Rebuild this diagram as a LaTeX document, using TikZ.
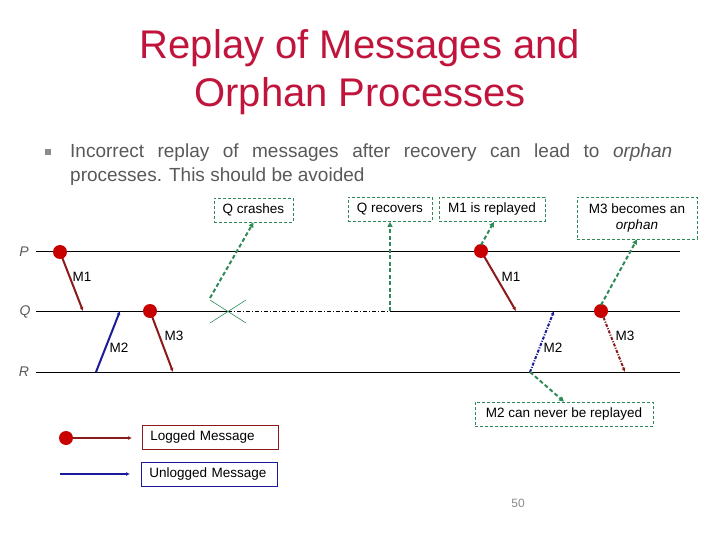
\documentclass[tikz,border=0pt]{standalone}
\usepackage{fontspec}
\setmainfont{Liberation Sans}
\usetikzlibrary{arrows.meta}
\definecolor{titlered}{HTML}{C0143C}
\definecolor{msgred}{HTML}{8B1A1A}
\definecolor{dotred}{HTML}{C80000}
\definecolor{msgblue}{HTML}{1A1A9A}
\definecolor{callgreen}{HTML}{2E8B57}
\definecolor{bodygray}{HTML}{595959}
\definecolor{numgray}{HTML}{8A8A8A}
\begin{document}
\begin{tikzpicture}[x=1pt,y=-1pt,
  lbl/.style={font=\fontsize{13.5}{15}\selectfont, inner sep=0pt},
  proclbl/.style={font=\fontsize{14}{16}\selectfont\itshape, text=bodygray, inner sep=0pt},
  procline/.style={draw=black, line width=0.8pt},
  dotnode/.style={circle, fill=dotred, minimum size=14pt, inner sep=0pt},
  logged/.style={draw=msgred, line width=2pt, -{Latex[length=4pt,width=4pt]}},
  unlogged/.style={draw=msgblue, line width=2pt, -{Latex[length=4pt,width=4pt]}},
  dashdotline/.style={dash pattern=on 3pt off 1.5pt on 1pt off 1.5pt},
  callout/.style={draw=callgreen, dash pattern=on 3pt off 2pt, line width=0.7pt, inner sep=0pt,
    font=\fontsize{13.5}{16}\selectfont, minimum height=24pt},
  calllink/.style={draw=callgreen, line width=2pt, dash pattern=on 4pt off 2.5pt,
    -{Triangle[length=5pt,width=5pt]}},
  legbox/.style={draw, line width=0.8pt, inner xsep=8pt, inner ysep=0pt,
    text width=120pt, align=left, minimum height=24pt, anchor=west,
    font=\fontsize{13.5}{15}\selectfont}
]
\useasboundingbox (0,0) rectangle (720,540);

% Title
\node[anchor=base, text=titlered, font=\fontsize{40}{48}\selectfont] (t1) at (360,59) {Replay of Messages and};
\node[anchor=base, text=titlered, font=\fontsize{40}{48}\selectfont] (t2) at (360,107) {Orphan Processes};

% Bullet text
\node[fill=bodygray!70, minimum size=6pt, inner sep=0pt] (bul) at (48,152) {};
\node[anchor=base west, inner sep=0pt, text=bodygray, font=\fontsize{19}{24}\selectfont] (b1) at (70,158)
  {\makebox[602pt][s]{Incorrect replay of messages after recovery can lead to \textit{orphan}}};
\node[anchor=base west, inner sep=0pt, text=bodygray, font=\fontsize{19}{24}\selectfont] (b2) at (70,182)
  {processes. This should be avoided};

% Process lines
\node[proclbl] (P) at (24,252) {P};
\node[proclbl] (Q) at (25,312) {Q};
\node[proclbl] (R) at (24,372) {R};
\coordinate (Ps) at (36,251); \coordinate (Pe) at (680,251);
\coordinate (Qs) at (36,311); \coordinate (Qe) at (680,311);
\coordinate (Rs) at (36,372); \coordinate (Re) at (680,372);
\coordinate (crash) at (228,311);
\coordinate (recov) at (390,311);
\draw[procline] (Ps) -- (Pe);
\draw[procline] (Rs) -- (Re);
\draw[procline] (Qs) -- (crash);
\draw[procline, line width=0.6pt, dash pattern=on 4pt off 2pt on 1pt off 2pt] (crash) -- (recov);
\draw[procline] (recov) -- (Qe);

% Crash mark
\draw[callgreen, line width=0.6pt] (210,300) -- (246,323) (210,323) -- (246,300);

% Messages (first run)
\coordinate (m1a) at (60,252);  \coordinate (m1b) at (83,311);
\coordinate (m2a) at (96,372);  \coordinate (m2b) at (120,311);
\coordinate (m3a) at (150,311); \coordinate (m3b) at (173,372);
\draw[logged] (m1a) -- (m1b);
\draw[unlogged] (m2a) -- (m2b);
\draw[logged] (m3a) -- (m3b);
\node[dotnode] (d1) at (m1a) {};
\node[dotnode] (d3) at (m3a) {};
\node[lbl] (lm1) at (82,277) {M1};
\node[lbl] (lm2) at (119,348) {M2};
\node[lbl] (lm3) at (174,336) {M3};

% Messages (replay)
\coordinate (r1a) at (481,251); \coordinate (r1b) at (516,311);
\coordinate (r2a) at (530,372); \coordinate (r2b) at (554,311);
\coordinate (r3a) at (601,311); \coordinate (r3b) at (625,372);
\draw[logged] (r1a) -- (r1b);
\draw[unlogged, dashdotline] (r2a) -- (r2b);
\draw[logged, dashdotline] (r3a) -- (r3b);
\node[dotnode] (rd1) at (r1a) {};
\node[dotnode] (rd3) at (r3a) {};
\node[lbl] (lr1) at (511,277) {M1};
\node[lbl] (lr2) at (553,348) {M2};
\node[lbl] (lr3) at (625,336) {M3};

% Callouts
\node[callout, minimum width=79pt] (cq) at (253.5,210) {Q crashes};
\node[callout, minimum width=84pt] (cr) at (390,209.5) {Q recovers};
\node[callout, minimum width=106pt] (cm1) at (492,209.5) {M1 is replayed};
\node[callout, minimum width=120pt, minimum height=42pt, align=center] (co) at (637,218)
  {M3 becomes an\\\textit{orphan}};
\node[callout, minimum width=178pt] (cm2) at (564,414) {M2 can never be replayed};

\coordinate (crashtip) at (210,298);
\coordinate (m1tip) at (481,245);
\coordinate (m3tip) at (601,305);
\draw[calllink] (crashtip) -- (cq.south);
\draw[calllink] (recov) -- (cr.south);
\draw[calllink] (m1tip) -- ([xshift=2pt]cm1.south);
\draw[calllink] (m3tip) -- (co.south);
\draw[calllink] (r2a) -- (cm2.north);

% Legend
\coordinate (lga) at (66,438); \coordinate (lgb) at (132,438);
\coordinate (lua) at (60,474); \coordinate (lub) at (130,474);
\draw[logged] (lga) -- (lgb);
\node[dotnode] (lgd) at (lga) {};
\draw[unlogged] (lua) -- (lub);
\node[legbox, draw=msgred] (lg) at (142,437) {Logged Message};
\node[legbox, draw=msgblue] (lu) at (141,474) {Unlogged Message};

% Page number
\node[text=numgray, font=\fontsize{12}{14}\selectfont] (pg) at (518,503) {50};
\end{tikzpicture}
\end{document}
